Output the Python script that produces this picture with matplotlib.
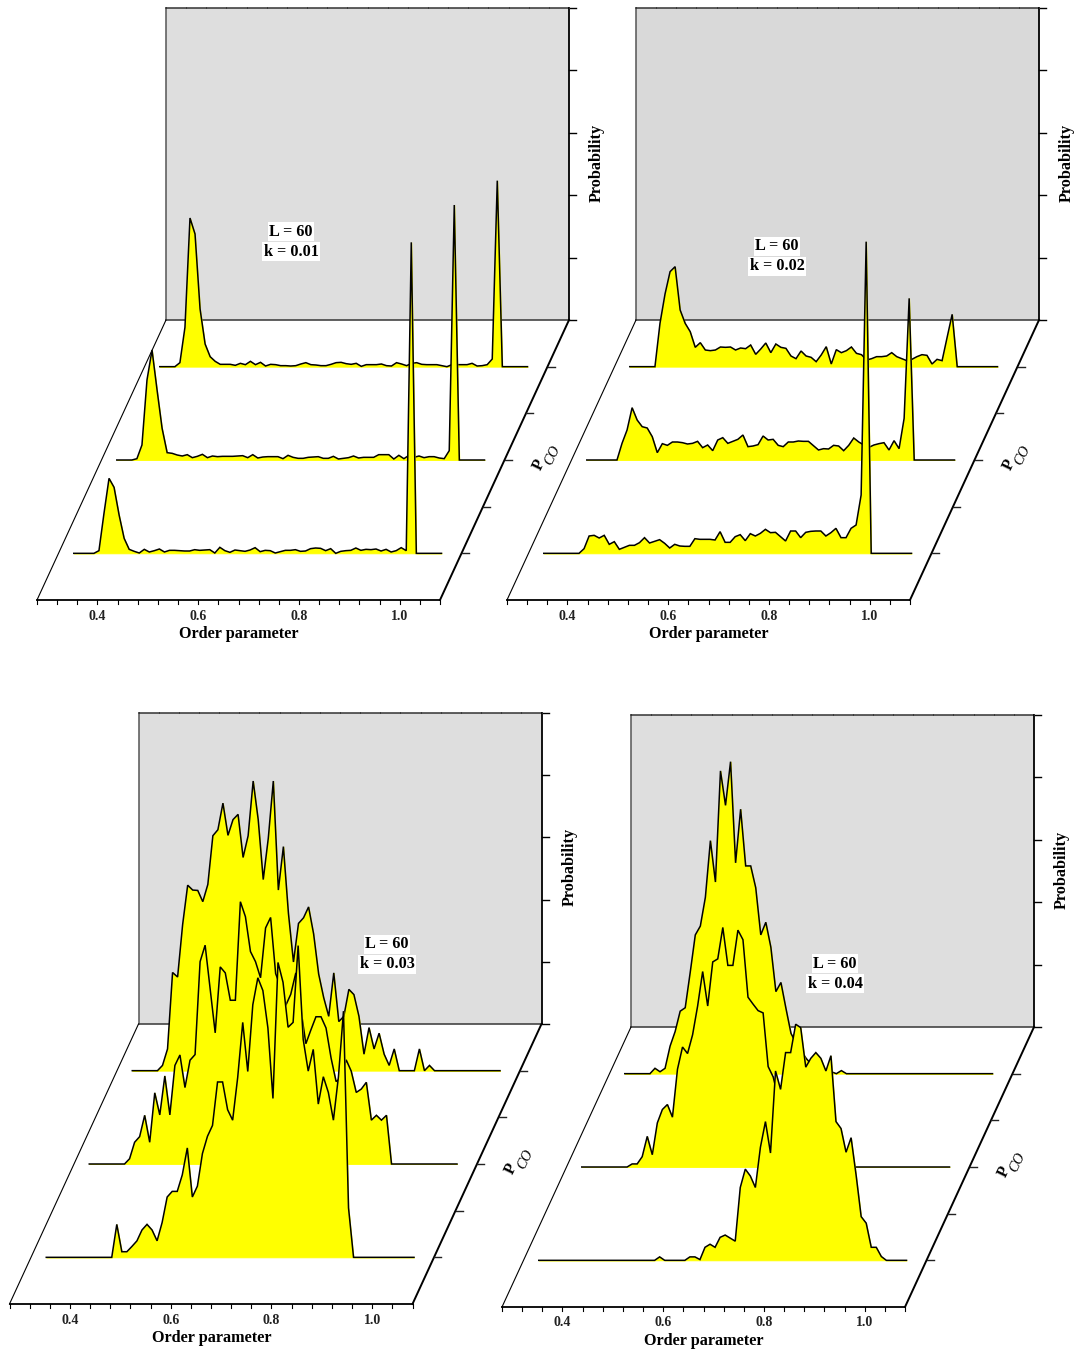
import numpy as np
import matplotlib
matplotlib.use('Agg')
import matplotlib.pyplot as plt
from matplotlib.patches import Rectangle
from matplotlib.transforms import Affine2D

# order parameter bins shared by all curves
order_param = np.arange(74) * 0.01 + 0.3103

# probability values, arbitrary scale (no tick labels on the wall), one list per P_CO slice
k01_front = [0,0,0,0,0,8,120,225,198,115,45,12,6,1,12,4,8,13,4,9,9,8,7,7,11,9,10,11,1,18,8,3,10,8,6,10,17,5,9,8,1,5,9,9,11,6,7,14,16,15,8,14,0,6,8,9,16,9,12,11,13,7,12,4,8,17,8,933,0,0,0,0,0,0]
k01_mid = [0,0,0,0,4,45,240,330,210,95,22,20,15,12,16,7,11,17,7,12,10,11,11,11,12,13,7,16,6,9,10,10,10,4,14,8,5,5,8,9,10,5,5,11,3,5,7,12,6,8,8,8,16,16,16,3,14,4,14,8,12,7,10,10,6,4,28,765,0,0,0,0,0,0]
k01_back = [0,0,0,0,12,118,446,398,173,68,30,16,7,7,7,4,10,6,16,6,13,2,7,6,3,3,2,3,8,12,6,5,3,3,7,12,13,9,7,10,1,6,6,6,8,3,2,12,8,3,10,12,7,6,6,6,3,0,6,6,6,6,10,2,3,6,23,558,0,0,0,0,0,0]

k02_front = [0,0,0,0,0,0,0,0,14,52,54,46,54,27,35,12,18,24,24,32,47,31,36,41,30,16,27,22,21,21,44,42,42,42,40,65,33,33,50,56,38,59,52,60,72,62,63,50,37,67,67,47,63,66,67,67,52,62,75,47,47,75,85,175,935,0,0,0,0,0,0,0,0,0]
k02_mid = [0,0,0,0,0,0,0,50,90,157,120,100,96,70,22,49,44,54,54,52,48,50,56,37,45,28,60,67,50,56,62,75,40,42,46,72,60,62,44,40,54,54,57,56,56,43,30,34,33,44,42,28,44,66,54,45,38,45,49,52,30,58,34,125,485,0,0,0,0,0,0,0,0,0]
k02_back = [0,0,0,0,0,0,130,218,285,300,170,130,105,58,72,50,48,50,59,58,59,50,56,54,65,37,53,71,42,68,58,55,32,24,47,32,28,15,35,60,8,51,42,48,59,40,36,20,24,30,30,32,42,30,24,18,22,30,36,34,8,22,18,88,157,0,0,0,0,0,0,0,0,0]

k03_front = [0,0,0,0,0,0,0,0,0,0,0,0,0,0,88,15,15,29,44,73,88,73,44,93,161,176,176,220,292,161,190,277,323,352,468,468,394,366,480,627,496,674,746,712,612,424,787,734,614,627,832,582,497,555,409,482,440,366,482,657,132,0,0,0,0,0,0,0,0,0,0,0,0,0]
k03_mid = [0,0,0,0,0,0,0,0,14,58,73,130,58,190,131,235,131,263,291,204,277,292,540,584,467,350,526,510,437,437,700,660,567,540,497,630,658,508,473,423,453,510,413,321,358,393,393,363,283,220,230,278,248,191,200,218,117,130,117,130,0,0,0,0,0,0,0,0,0,0,0,0,0,0]
k03_back = [0,0,0,0,0,0,14,58,262,250,390,495,482,481,451,497,627,643,714,628,670,684,569,627,773,670,510,620,773,482,598,420,290,393,408,437,365,258,195,145,261,131,145,217,203,145,44,115,58,100,44,14,58,0,0,0,0,58,0,14,0,0,0,0,0,0,0,0,0,0,0,0,0,0]

k04_front = [0,0,0,0,0,0,0,0,0,0,0,0,0,0,0,0,0,0,0,0,0,0,0,0,9,0,0,0,0,0,9,9,2,34,42,34,60,66,58,50,190,238,220,190,295,362,280,494,446,542,542,616,607,504,527,542,527,494,534,362,344,282,320,222,114,97,34,34,10,0,0,0,0,0]
k04_mid = [0,0,0,0,0,0,0,0,0,0,8,8,27,80,32,115,150,163,130,255,313,296,345,420,510,420,535,543,625,526,526,618,593,443,425,408,402,262,235,180,140,110,90,70,50,35,25,15,10,5,0,0,0,0,0,0,0,0,0,0,0,0,0,0,0,0,0,0,0,0,0,0,0,0]
k04_back = [0,0,0,0,0,0,14,5,14,72,110,163,172,265,362,385,460,608,500,790,700,814,550,690,542,542,485,362,395,330,214,238,170,105,80,60,40,25,20,15,10,5,0,8,0,0,0,0,0,0,0,0,0,0,0,0,0,0,0,0,0,0,0,0,0,0,0,0,0,0,0,0,0,0]

series_k01 = [k01_back, k01_mid, k01_front]
series_k02 = [k02_back, k02_mid, k02_front]
series_k03 = [k03_back, k03_mid, k03_front]
series_k04 = [k04_back, k04_mid, k04_front]

pco_slices = [3, 2, 1]
pco_ticks = [1, 1.5, 2, 2.5, 3]
x_major = [0.4, 0.6, 0.8, 1.0]
k_labels = ['k = 0.01', 'k = 0.02', 'k = 0.03', 'k = 0.04']

plt.rcParams['font.family'] = ['Liberation Serif', 'DejaVu Serif']

fig = plt.figure(figsize=(10.77, 13.57), dpi=100)
ax = fig.add_axes([0, 0, 1, 1])
ax.set_xlim(0, 1077)
ax.set_ylim(1357, 0)
ax.axis('off')

X_LO, X_HI = 0.28, 1.08
Z_LO, Z_HI = 0.5, 3.5
PLOT_W, PLOT_H, WALL_H = 403.0, 280.0, 312.0
SHEAR = 129.0


def panel(x0, y0, series, ytop, wall, k_label, text_pos, wall_h=WALL_H):
	# x0, y0 is the front left corner of the floor
	xs = PLOT_W / (X_HI - X_LO)
	zf = 1.0 / (Z_HI - Z_LO)

	def place(z):
		# transform (order parameter, probability) of one slice into the figure
		f = (z - Z_LO) * zf
		tr = Affine2D.from_values(xs, 0, 0, -wall_h / ytop,
			x0 + f * SHEAR - X_LO * xs, y0 - f * PLOT_H)
		return tr + ax.transData

	back_x, back_y = x0 + SHEAR, y0 - PLOT_H

	# back wall
	ax.add_patch(Rectangle((back_x, back_y - wall_h), PLOT_W, wall_h, facecolor=wall,
		edgecolor='none', zorder=1))
	ax.plot([back_x, back_x], [back_y - wall_h, back_y], color='#555555', lw=1.1, zorder=2)
	ax.plot([back_x, back_x + PLOT_W], [back_y, back_y], color='#444444', lw=1.2, zorder=2)
	ax.plot([back_x, back_x + PLOT_W], [back_y - wall_h] * 2, color='#333333', lw=1.1, zorder=2)
	ax.plot([back_x + PLOT_W] * 2, [back_y - wall_h, back_y], color='black', lw=1.3, zorder=2)
	for i in range(6):
		yy = back_y - wall_h + i * wall_h / 5
		ax.plot([back_x + PLOT_W, back_x + PLOT_W + 7], [yy, yy], color='black', lw=1.0, zorder=2)

	# floor
	ax.plot([x0, back_x], [y0, back_y], color='black', lw=0.8, zorder=2)
	ax.plot([x0 + PLOT_W, back_x + PLOT_W], [y0, back_y], color='black', lw=1.4, zorder=2)
	ax.plot([x0, x0 + PLOT_W], [y0, y0], color='black', lw=1.3, zorder=2)
	for t in np.arange(0, 21) * 0.04 + X_LO:
		px = x0 + (t - X_LO) * xs
		ax.plot([px, px], [y0, y0 + 3.5], color='black', lw=0.8, zorder=2)
		ax.plot([px + SHEAR] * 2, [back_y - wall_h, back_y - wall_h - 1.5], color='#333333', lw=0.6, zorder=2)
	for z in pco_ticks:
		f = (z - Z_LO) * zf
		px = x0 + PLOT_W + f * SHEAR
		py = y0 - f * PLOT_H
		ax.plot([px, px + 7], [py, py], color='#222222', lw=1.0, zorder=2)

	# curves, back one first
	for n, (z, vals) in enumerate(zip(pco_slices, series)):
		tr = place(z)
		ax.fill_between(order_param, 0, vals, transform=tr, facecolor='#FFFF00',
			edgecolor='#FFFF00', lw=0.6, zorder=3 + n)
		ax.plot(order_param, vals, transform=tr, color='black', lw=1.1,
			solid_joinstyle='miter', zorder=3 + n)

	# text
	for t in x_major:
		ax.text(x0 + (t - X_LO) * xs, y0 + 16, '%.1f' % t, ha='center', va='center',
			fontsize=10, fontweight='bold', color='#222222', zorder=8)
	ax.text(x0 + 202, y0 + 34, 'Order parameter', ha='center', va='center',
		fontsize=11.7, fontweight='bold', zorder=8)
	ax.text(back_x + PLOT_W + 28, back_y - 157, 'Probability', rotation=90, ha='center',
		va='center', fontsize=11.7, fontweight='bold', zorder=8)
	ax.text(x0 + 502, y0 - 135, 'P', rotation=64, ha='center', va='center',
		fontsize=11.7, fontweight='bold', zorder=8)
	ax.text(x0 + 516, y0 - 145, 'CO', rotation=64, ha='center', va='center',
		fontsize=10.5, fontstyle='italic', zorder=8)
	for dy, s in zip([0, 20], ['L = 60', k_label]):
		ax.text(text_pos[0], text_pos[1] + dy, s, ha='center', va='center', fontsize=11.7,
			fontweight='bold', zorder=9,
			bbox=dict(facecolor='white', edgecolor='none', pad=1.0))


panel(37, 600, series_k01, 936, '#DEDEDE', k_labels[0], (291, 231.5))
panel(507, 600, series_k02, 936, '#D9D9D9', k_labels[1], (777, 246.5))
panel(9.5, 1304, series_k03, 830, '#DEDEDE', k_labels[2], (387, 944.5), wall_h=311)
panel(502, 1307, series_k04, 814, '#DEDEDE', k_labels[3], (835, 963.5))

fig.savefig('out.png', dpi=100)
